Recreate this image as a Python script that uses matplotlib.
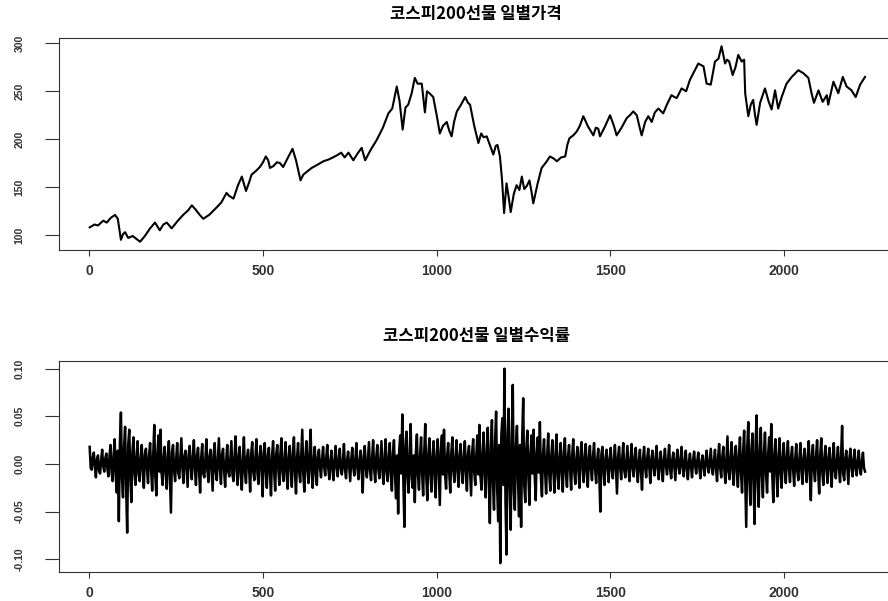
"""KOSPI200 futures: daily price and daily returns (two stacked panels)."""

import matplotlib
matplotlib.use("Agg")
import matplotlib.pyplot as plt
import numpy as np

plt.rcParams["font.family"] = ["Noto Sans CJK KR", "DejaVu Sans"]

# price at turning points (trading-day index, level)
price_day = [
    1, 15, 25, 40, 50, 62, 74, 82, 91, 97, 103, 112, 125, 146, 160, 175, 189, 196,
    203, 213, 223, 230, 237, 255, 270, 285, 295, 305, 318, 328, 345, 367, 380, 395,
    402, 415, 428, 439, 451, 460, 467, 480, 491, 500, 508, 515, 520, 530, 540, 549,
    558, 572, 585, 595, 608, 616, 626, 640, 655, 674, 690, 712, 725, 735, 746, 760,
    772, 784, 794, 810, 827, 845, 861, 872, 885, 893, 902, 910, 918, 928, 937, 945,
    957, 966, 972, 979, 990, 1000, 1009, 1018, 1029, 1036, 1043, 1050, 1058, 1070,
    1082, 1090, 1096, 1108, 1120, 1128, 1135, 1144, 1153, 1163, 1170, 1175, 1182,
    1188, 1194, 1201, 1207, 1213, 1222, 1230, 1238, 1245, 1252, 1259, 1267, 1273,
    1278, 1290, 1302, 1315, 1326, 1336, 1346, 1358, 1370, 1376, 1382, 1393, 1403,
    1412, 1422, 1436, 1451, 1458, 1465, 1470, 1484, 1499, 1510, 1518, 1532, 1547,
    1556, 1566, 1576, 1583, 1590, 1600, 1609, 1619, 1628, 1638, 1652, 1665, 1676,
    1684, 1691, 1705, 1718, 1729, 1739, 1753, 1768, 1777, 1789, 1801, 1811, 1820,
    1830, 1836, 1842, 1852, 1860, 1868, 1878, 1885, 1888, 1897, 1904, 1911, 1916,
    1921, 1931, 1945, 1955, 1964, 1974, 1983, 1993, 2007, 2022, 2041, 2055, 2070,
    2079, 2086, 2099, 2111, 2123, 2127, 2142, 2156, 2169, 2180, 2194, 2206, 2219,
    2233,
]
price_val = [
    108, 111, 110, 115, 113, 118, 121, 117, 95, 101, 103, 97, 99, 93, 99, 107, 113, 109,
    105, 111, 113, 110, 107, 115, 121, 126, 131, 127, 121, 117, 121, 129, 134, 144,
    141, 138, 152, 161, 146, 155, 163, 167, 171, 176, 182, 178, 170, 172, 176, 175,
    171, 181, 190, 178, 157, 163, 166, 170, 173, 177, 179, 183, 186, 181, 186, 178,
    185, 191, 178, 189, 199, 212, 227, 232, 255, 240, 210, 233, 236, 248, 264, 258,
    258, 228, 250, 248, 244, 225, 206, 214, 218, 209, 203, 218, 229, 236,
    244, 238, 236, 214, 196, 206, 202, 203, 194, 184, 193, 194, 182,
    158, 123, 154, 140, 124, 143, 152, 147, 161, 148, 151, 157, 145,
    133, 153, 170, 176, 182, 180, 177, 181, 182, 194, 201, 204, 208,
    214, 224, 213, 204, 212, 211, 203, 213, 225, 214, 204, 212, 222,
    225, 229, 225, 214, 204, 218, 224, 218, 228, 232, 227, 238, 246,
    244, 243, 253, 250, 262, 269, 279, 276, 258, 257, 281, 284, 297,
    279, 283, 281, 267, 275, 288, 281, 283, 248, 224, 236, 241, 226,
    215, 238, 253, 240, 231, 251, 232, 244, 258, 265, 272, 269, 264,
    248, 238, 251, 239, 246, 236, 260, 248, 265, 255, 251, 244, 257,
    265,
]

# daily returns sampled every 3 trading days, in units of 0.001
ret_step = 3
ret_milli = [
    18, -4, -6, 7, 12, -3, -14, 5, 9, -7, -10, 4, 15, -2, -8, 6, 11, -5, -13, 8,
    20, -8, -18, 9, 26, -12, -30, 14, -60, 22, 54, -15, -35, 18, 39, -25, -72, 20, 36, -14,
    -40, 12, 28, -9, -22, 8, 24, -11, -18, 6, 20, -7, -25, 10, 16, -5, -20, 9, 22, -6,
    -28, 10, 41, -13, -33, 11, 30, -8, 36, -9, -22, 7, 18, -10, -26, 9, 24, -14, -51, 12,
    20, -7, -18, 5, 22, -9, -15, 6, 27, -4, -20, 8, 14, -6, -24, 10, 19, -3, -16, 7,
    25, -5, -22, 9, 17, -8, -30, 6, 21, -10, -14, 4, 26, -7, -19, 8, 15, -6, -28, 11,
    22, -9, -17, 6, 27, -5, -21, 10, 16, -7, -24, 3, 20, -8, -13, 5, 24, -11, -18, 7,
    29, -6, -22, 8, 18, -10, -27, 4, 28, -9, -20, 7, 15, -5, -29, 11, 23, -8, -17, 6,
    26, -10, -21, 7, 19, -6, -34, 12, 22, -8, -25, 9, 17, -11, -33, 8, 24, -7, -28, 10,
    20, -5, -22, 11, 27, -9, -18, 6, 23, -12, -26, 8, 19, -4, -24, 10, 28, -9, -31, 7,
    22, -8, -19, 10, 36, -11, -29, 7, 24, -6, -20, 12, 36, -9, -25, 5, 18, -10, -22, 8,
    15, -4, -14, 5, 18, -3, -12, 6, 20, -5, -16, 2, 14, -6, -17, 4, 19, -3, -13, 5,
    16, -5, -11, 3, 21, -6, -15, 4, 13, -2, -18, 5, 17, -4, -12, 6, 22, -5, -16, 3,
    14, -6, -30, 8, 19, -4, -14, 5, 23, -7, -17, 6, 25, -5, -19, 7, 20, -6, -15, 4,
    24, -8, -21, 6, 26, -9, -18, 7, 22, -10, -28, 11, 25, -12, -36, 9, -52, 14, 30, -10,
    52, -18, -66, 20, 34, -12, -30, 10, 42, -14, -25, 9, -40, 12, 31, -11, -27, 8, 28, -10,
    -33, 11, 42, -13, -38, 9, 27, -10, -29, 8, 24, -12, -35, 10, 26, -9, -43, 14, 30, -11,
    36, -10, -26, 8, 22, -9, -30, 11, 28, -7, -19, 6, 25, -8, -24, 9, 21, -6, -20, 7,
    24, -9, -28, 10, 19, -7, -33, 12, 26, -8, -22, 9, 30, -11, 41, -13, -27, 10, 33, -12,
    -35, 14, 38, -16, -62, 18, 46, -20, -48, 22, 55, -25, -60, 20, -104, 30, 48, -22, 100, -40,
    -95, 30, 58, -24, -69, 26, 83, -30, -48, 18, 40, -15, -55, 20, -66, 25, 69, -22, -40, 16,
    35, -14, -43, 12, 30, -10, 36, -12, -38, 11, 28, -9, 44, -15, -34, 10, 26, -8, -31, 9,
    32, -11, -28, 9, 25, -8, -30, 10, 31, -12, -26, 7, 22, -9, -29, 11, 27, -10, -24, 8,
    20, -6, -27, 9, 26, -8, -21, 5, 18, -7, -25, 10, 23, -4, -19, 6, 21, -9, -24, 7,
    19, -5, -17, 8, 22, -6, -20, 4, 16, -12, -50, 10, 18, -7, -22, 6, 15, -4, -19, 5,
    17, -6, -15, 4, 20, -5, -31, 7, 18, -3, -16, 5, 22, -7, -14, 3, 19, -6, -18, 4,
    21, -4, -13, 6, 17, -5, -19, 3, 15, -8, -27, 5, 18, -3, -14, 6, 16, -4, -20, 5,
    14, -3, -12, 5, 19, -4, -16, 2, 13, -5, -18, 4, 16, -2, -11, 3, 20, -6, -15, 4,
    12, -3, -17, 4, 15, -2, -10, 5, 18, -4, -13, 3, 14, -5, -16, 2, 11, -3, -14, 4,
    13, -2, -10, 3, 12, -4, -15, 2, 9, -3, -12, 4, 14, -2, -9, 3, 16, -4, -11, 3,
    15, -5, -18, 6, 21, -4, -14, 7, 18, -6, -20, 5, 29, -8, -16, 6, 23, -7, -22, 8,
    19, -7, -24, 9, 28, -10, -30, 12, 35, -14, -66, 18, 44, -16, -43, 15, 32, -20, -63, 22,
    51, -18, -45, 14, 38, -12, -35, 11, 33, -10, -30, 9, 28, -8, 42, -13, -40, 10, 26, -9,
    -34, 8, 27, -9, -25, 7, 22, -6, -20, 8, 24, -5, -19, 7, 18, -6, -23, 5, 21, -7,
    -17, 5, 22, -8, -21, 6, 16, -4, -19, 7, 24, -10, -38, 9, 20, -6, -18, 8, 25, -7,
    -31, 9, 27, -8, -22, 6, 19, -5, -20, 7, 17, -6, -24, 5, 22, -7, -15, 4, 18, -5,
    -19, 8, 40, -10, -17, 5, 14, -4, -21, 6, 16, -3, -13, 4, 15, -5, -12, 3, 14, -4,
    -11, 3, 12, -4, -8,
]

titles = ["코스피200선물 일별가격", "코스피200선물 일별수익률"]
x_ticks = [0, 500, 1000, 1500, 2000]
price_ticks = [100, 150, 200, 250, 300]
ret_ticks = [-0.10, -0.05, 0.00, 0.05, 0.10]

W, H = 888, 601
fig = plt.figure(figsize=(W / 100, H / 100), dpi=100)
left, right = 59.3, 893.0
ax1 = fig.add_axes([left / W, 1 - 250 / H, (right - left) / W, (250 - 38.3) / H])
ax2 = fig.add_axes([left / W, 1 - 571.7 / H, (right - left) / W, (571.7 - 360.7) / H])

ax1.plot(price_day, price_val, color="black", lw=1.5)
ret_day = np.arange(len(ret_milli)) * ret_step + 1
ax2.plot(ret_day, np.array(ret_milli) / 1000.0, color="black", lw=1.8)

ax1.set_ylim(84.4, 305.3)
ax2.set_ylim(-0.113, 0.1084)
ax1.set_yticks(price_ticks)
ax1.set_yticklabels([str(v) for v in price_ticks])
ax2.set_yticks(ret_ticks)
ax2.set_yticklabels([f"{v:.2f}" for v in ret_ticks])

for ax, title in zip([ax1, ax2], titles):
    ax.set_xlim(-86.4, 2313.5)
    ax.set_xticks(x_ticks)
    ax.set_xticklabels([str(v) for v in x_ticks], fontfamily="Liberation Sans",
                       fontweight="bold", fontsize=10, color="#222222")
    for lab in ax.get_yticklabels():
        lab.set_fontfamily("Liberation Sans")
        lab.set_fontweight("bold")
        lab.set_fontsize(7.5)
        lab.set_rotation(90)
        lab.set_va("center")
        lab.set_color("#222222")
    ax.tick_params(axis="x", length=4.5, width=0.8, pad=5.5, colors="#333333")
    ax.tick_params(axis="y", length=10, width=0.8, pad=15, colors="#333333")
    for sp in ax.spines.values():
        sp.set_linewidth(0.8)
        sp.set_color("#333333")
    ax.set_title(title, fontsize=12, fontweight="bold", pad=14)

fig.savefig("out.png", dpi=100)
